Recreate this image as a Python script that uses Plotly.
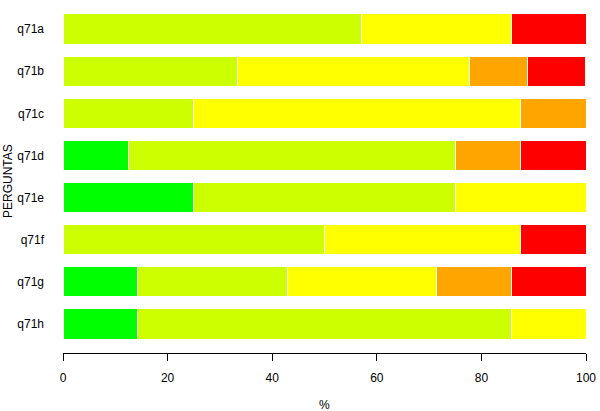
import plotly.graph_objects as go

categories = ["q71a", "q71b", "q71c", "q71d", "q71e", "q71f", "q71g", "q71h"]
green = [0, 0, 0, 12.5, 25, 0, 14.29, 14.29]
yellowgreen = [57.14, 33.33, 25, 62.5, 50, 50, 28.57, 71.43]
yellow = [28.57, 44.44, 62.5, 0, 25, 37.5, 28.57, 14.29]
orange = [0, 11.11, 12.5, 12.5, 0, 0, 14.29, 0]
red = [14.29, 11.11, 0, 12.5, 0, 12.5, 14.29, 0]
x_ticks = [0, 20, 40, 60, 80, 100]

series = [
    ("1", green, "#00FF00"),
    ("2", yellowgreen, "#CCFF00"),
    ("3", yellow, "#FFFF00"),
    ("4", orange, "#FFA500"),
    ("5", red, "#FF0000"),
]

fig = go.Figure()
for name, vals, col in series:
    fig.add_trace(go.Bar(
        y=categories, x=vals, name=name, orientation="h",
        marker=dict(color=col, line=dict(color="white", width=1)),
        width=0.72,
    ))

font = dict(family="Liberation Sans, Arial, sans-serif", size=12, color="black")
H_PLOT = 411 - 8 - 58
fig.update_layout(
    barmode="stack",
    width=600, height=411,
    margin=dict(l=63, r=14, t=8, b=58),
    plot_bgcolor="white", paper_bgcolor="white",
    showlegend=False,
    font=font,
    xaxis=dict(
        range=[0, 100], tickvals=x_ticks, ticks="outside", ticklen=7,
        tickcolor="black", showline=True, linecolor="black", linewidth=1,
        showgrid=False, zeroline=False, ticklabelstandoff=7,
        automargin=False,
    ),
    yaxis=dict(
        range=[7.69, -0.5], showgrid=False, zeroline=False, showline=False,
        ticks="", ticklabelstandoff=18, automargin=False,
    ),
    annotations=[
        dict(
            text="PERGUNTAS", xref="paper", yref="paper",
            x=(8 - 63) / 523, y=1 - (181 - 8) / H_PLOT, xanchor="center", yanchor="middle",
            textangle=-90, showarrow=False, font=font,
        ),
        dict(
            text="%", xref="paper", yref="paper",
            x=0.5, y=1 - (405 - 8) / H_PLOT, xanchor="center", yanchor="middle",
            showarrow=False, font=font,
        ),
    ],
)

fig.write_html("out.html")
